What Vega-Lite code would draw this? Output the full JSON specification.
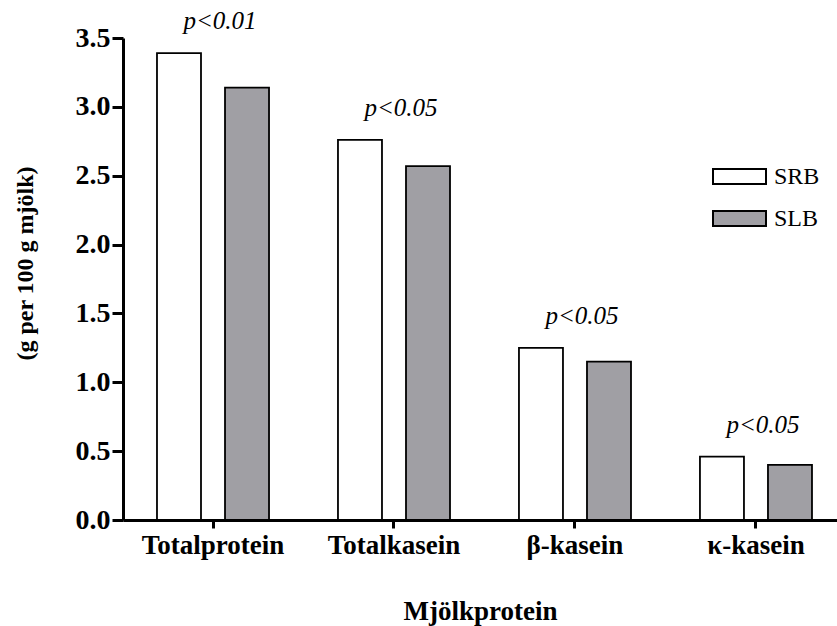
{
  "$schema": "https://vega.github.io/schema/vega-lite/v6.json",
  "width": 714,
  "height": 482,
  "autosize": {"type": "none"},
  "padding": {"left": 123, "top": 38, "right": 0, "bottom": 106},
  "background": "white",
  "config": {"view": {"stroke": null}, "font": "Liberation Serif"},
  "datasets": {
    "bars": [
      {"protein": "Totalprotein", "ras": "SRB", "varde": 3.39},
      {"protein": "Totalprotein", "ras": "SLB", "varde": 3.14},
      {"protein": "Totalkasein", "ras": "SRB", "varde": 2.76},
      {"protein": "Totalkasein", "ras": "SLB", "varde": 2.57},
      {"protein": "β-kasein", "ras": "SRB", "varde": 1.25},
      {"protein": "β-kasein", "ras": "SLB", "varde": 1.15},
      {"protein": "κ-kasein", "ras": "SRB", "varde": 0.46},
      {"protein": "κ-kasein", "ras": "SLB", "varde": 0.40}
    ],
    "pvals": [
      {"protein": "Totalprotein", "varde": 3.39, "p": "p<0.01"},
      {"protein": "Totalkasein", "varde": 2.76, "p": "p<0.05"},
      {"protein": "β-kasein", "varde": 1.25, "p": "p<0.05"},
      {"protein": "κ-kasein", "varde": 0.46, "p": "p<0.05"}
    ]
  },
  "layer": [
    {
      "data": {"name": "bars"},
      "mark": {"type": "bar", "stroke": "black", "strokeWidth": 1.8},
      "encoding": {
        "x": {
          "field": "protein", "type": "nominal",
          "sort": ["Totalprotein", "Totalkasein", "β-kasein", "κ-kasein"],
          "scale": {"paddingInner": 0.381, "paddingOuter": 0.163, "align": 0.576},
          "axis": {
            "title": "Mjölkprotein", "labelAngle": 0, "grid": false,
            "domainColor": "black", "domainWidth": 3,
            "tickColor": "black", "tickWidth": 3, "tickSize": 8,
            "labelFont": "Liberation Serif", "labelFontWeight": "bold", "labelFontSize": 27,
            "labelColor": "black", "labelPadding": 4,
            "titleFont": "Liberation Serif", "titleFontWeight": "bold", "titleFontSize": 27,
            "titleColor": "black", "titlePadding": 40
          }
        },
        "xOffset": {
          "field": "ras", "type": "nominal", "sort": ["SRB", "SLB"],
          "scale": {"paddingInner": 0.353, "paddingOuter": 0}
        },
        "y": {
          "field": "varde", "type": "quantitative",
          "scale": {"domain": [0, 3.5], "nice": false},
          "axis": {
            "title": "(g per 100 g mjölk)", "grid": false,
            "values": [0, 0.5, 1, 1.5, 2, 2.5, 3, 3.5], "format": ".1f",
            "domainColor": "black", "domainWidth": 3,
            "tickColor": "black", "tickWidth": 3, "tickSize": 11,
            "labelFont": "Liberation Serif", "labelFontWeight": "bold", "labelFontSize": 28,
            "labelColor": "black", "labelPadding": 2,
            "titleFont": "Liberation Serif", "titleFontWeight": "bold", "titleFontSize": 24,
            "titleColor": "black", "titleX": -98, "titleY": 225, "titleBaseline": "middle", "titleAlign": "center"
          }
        },
        "fill": {
          "field": "ras", "type": "nominal",
          "scale": {"domain": ["SRB", "SLB"], "range": ["#ffffff", "#a09fa4"]},
          "legend": {
            "orient": "none", "legendX": 589, "legendY": 111, "title": null,
            "symbolType": "M-1,-0.28L1,-0.28L1,0.28L-1,0.28Z", "symbolSize": 2809,
            "symbolStrokeColor": "black", "symbolStrokeWidth": 2, "symbolOpacity": 1,
            "labelFont": "Liberation Serif", "labelFontSize": 24, "labelFontWeight": "normal",
            "labelColor": "black", "labelOffset": 7, "rowPadding": 2
          }
        }
      }
    },
    {
      "data": {"name": "pvals"},
      "mark": {"type": "text", "fontStyle": "italic", "fontSize": 25, "dy": -32, "dx": 7, "baseline": "middle", "font": "Liberation Serif", "color": "black"},
      "encoding": {
        "x": {"field": "protein", "type": "nominal", "sort": ["Totalprotein", "Totalkasein", "β-kasein", "κ-kasein"]},
        "y": {"field": "varde", "type": "quantitative"},
        "text": {"field": "p"}
      }
    }
  ]
}
